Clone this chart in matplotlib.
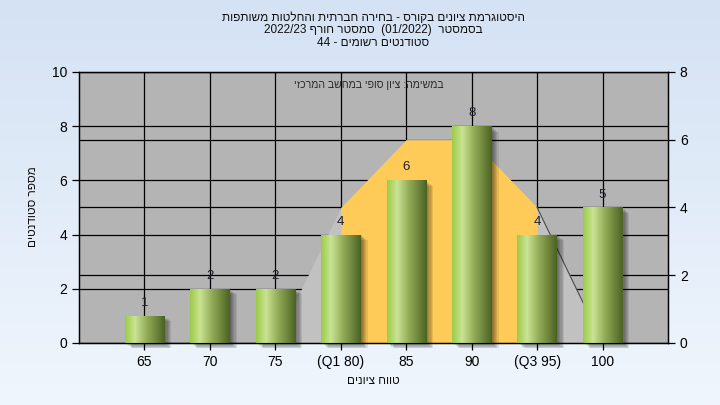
import re
import numpy as np
import matplotlib
matplotlib.use("Agg")
import matplotlib.pyplot as plt
from matplotlib.colors import LinearSegmentedColormap
from matplotlib.patches import Rectangle
import matplotlib.transforms as mtransforms

plt.rcParams['font.family'] = ['Liberation Sans', 'DejaVu Sans']

# ---------------- data ----------------
categories = ["65", "70", "75", "(Q1 80)", "85", "90", "(Q3 95)", "100"]
counts = [1, 2, 2, 4, 6, 8, 4, 5]
# distribution curve (right axis) over categories 75 .. 100
curve_idx = [2, 3, 4, 5, 6, 7]
curve_vals = [0, 4, 6, 6, 4, 0]
left_ticks = [0, 2, 4, 6, 8, 10]
right_ticks = [0, 2, 4, 6, 8]

title_lines = [
    "היסטוגרמת ציונים בקורס - בחירה חברתית והחלטות משותפות",
    "בסמסטר  (01/2022)  סמסטר חורף 2022/23",
    "סטודנטים רשומים - 44",
]
subtitle = "במשימה: ציון סופי במחשב המרכזי"
xlabel = "טווח ציונים"
ylabel = "מספר סטודנטים"


def visual(s):
    """Simple RTL -> visual order conversion for display."""
    r = s[::-1]
    r = re.sub(r'[0-9A-Za-z][0-9A-Za-z/.]*[0-9A-Za-z]|[0-9A-Za-z]',
               lambda m: m.group(0)[::-1], r)
    r = r.replace('(', '\x00').replace(')', '(').replace('\x00', ')')
    return r


W, H = 720, 405
fig = plt.figure(figsize=(7.2, 4.05), dpi=100)

# figure background gradient
bg = fig.add_axes([0, 0, 1, 1], zorder=-10)
grad = np.linspace(0, 1, 256).reshape(-1, 1)
bg_cmap = LinearSegmentedColormap.from_list("bg", ["#d4e2f4", "#f0f6fd"])
bg.imshow(grad, aspect='auto', cmap=bg_cmap, extent=[0, 1, 0, 1])
bg.set_axis_off()

L, R, T, B = 79, 668, 72, 343
ax = fig.add_axes([L / W, 1 - B / H, (R - L) / W, (B - T) / H])
ax.set_facecolor("#b4b4b4")

x = np.arange(len(categories))
ax.set_xlim(-1, len(categories))
ax.set_ylim(0, 10)

# grid
ax.set_axisbelow(True)
ax.grid(True, color="black", linewidth=0.9)
for v in right_ticks[1:-1]:
    ax.axhline(v * 10 / 8, color="black", linewidth=0.9, zorder=0.6)

# distribution curve
cx = np.array(curve_idx, dtype=float)
cy = np.array(curve_vals, dtype=float) * 10 / 8
ax.fill_between(cx, 0, cy, color="#c1c1c1", linewidth=0, zorder=1)
ax.fill_between(cx[1:5], 0, cy[1:5], color="#fecb58", linewidth=0, zorder=1.1)
ax.plot(cx[4:6], cy[4:6], color="#4a4a4a", linewidth=0.8, zorder=1.2)

# bars
bw = 0.6
bars = ax.bar(x, counts, width=bw, color="#9ccc48", zorder=3, linewidth=0)

# shadows
for xi, c in zip(x, counts):
    for k in range(1, 7):
        tr = mtransforms.offset_copy(ax.transData, fig=fig, x=1.2 * k, y=-0.9 * k, units='dots')
        ax.add_patch(Rectangle((xi - bw / 2, 0), bw, c, transform=tr,
                               facecolor="black", alpha=0.09, linewidth=0,
                               zorder=2, clip_on=False))

bar_cmap = LinearSegmentedColormap.from_list(
    "bar", [(0.0, "#9ccb47"), (0.25, "#c9e394"), (0.55, "#93ac58"), (1.0, "#4b6322")])
hg = np.linspace(0, 1, 128).reshape(1, -1)
for b in bars:
    x0 = b.get_x()
    im = ax.imshow(hg, cmap=bar_cmap, aspect='auto', zorder=3.1,
                   extent=[x0, x0 + b.get_width(), 0, b.get_height()])
    im.set_clip_path(b)

ax.set_xlim(-1, len(categories))
ax.set_ylim(0, 10)

# value labels
for xi, c in zip(x, counts):
    ax.annotate(str(c), (xi, c), xytext=(0, 5), textcoords='offset points',
                ha='center', va='bottom', fontsize=9.5, color="#1e1e2a", zorder=5)

# axes styling
ax.set_xticks(x)
ax.set_xticklabels(categories, fontsize=10)
ax.set_yticks(left_ticks)
ax.tick_params(axis='both', labelsize=10, length=5, width=0.9, colors="black")
for s in ax.spines.values():
    s.set_color("black")
    s.set_linewidth(1)

ax2 = ax.twinx()
ax2.set_ylim(0, 8)
ax2.set_yticks(right_ticks)
ax2.tick_params(axis='y', labelsize=10, length=5, width=0.9)
for s in ax2.spines.values():
    s.set_color("black")

# texts
cx_fig = (L + R) / 2 / W
for i, line in enumerate(title_lines):
    fig.text(cx_fig, 1 - (18 + 12.5 * i) / H, visual(line), ha='center', va='center',
             fontsize=8.5, color="#101010")
ax.text((368.5 - L) / (R - L), 1 - 13 / (B - T), visual(subtitle), transform=ax.transAxes,
        ha='center', va='center', fontsize=7.6, color="#2a2a2a", zorder=6)
fig.text(cx_fig, 1 - 381 / H, visual(xlabel), ha='center', va='center',
         fontsize=8.5, color="#101010")
fig.text(33 / W, 1 - 207 / H, visual(ylabel), ha='center', va='center',
         rotation=90, fontsize=8.5, color="#101010")

fig.savefig("out.png", dpi=100)
